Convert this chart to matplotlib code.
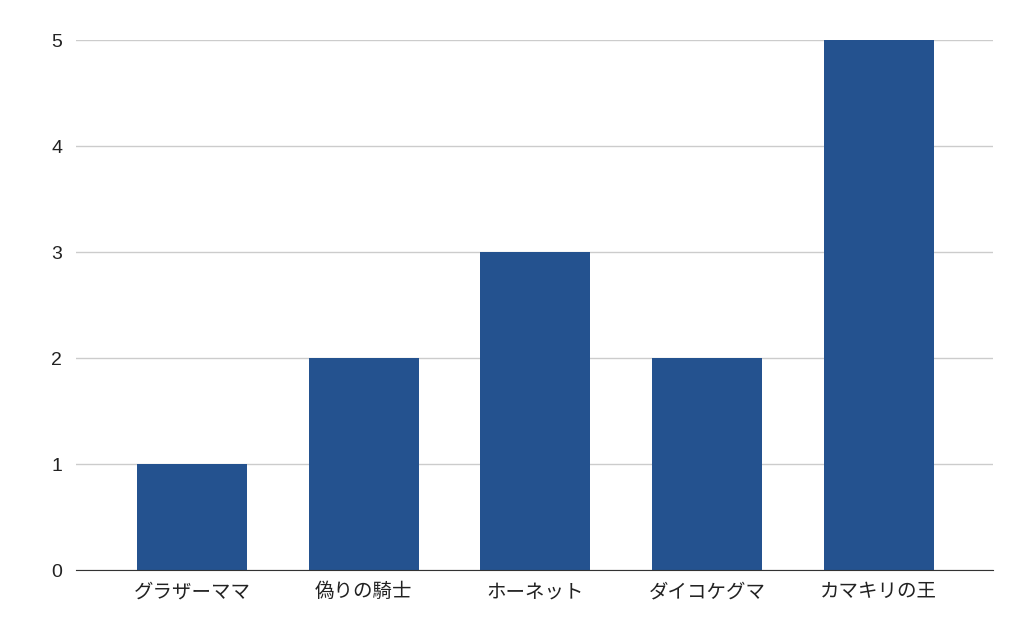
import matplotlib
matplotlib.use("Agg")
import matplotlib.pyplot as plt

plt.rcParams['font.family'] = ['Noto Sans CJK JP', 'DejaVu Sans']

names = ["グラザーママ", "偽りの騎士", "ホーネット", "ダイコケグマ", "カマキリの王"]
counts = [1, 2, 3, 2, 5]

fig = plt.figure(figsize=(10.24, 6.33), dpi=100)
ax = fig.add_axes([0.0742, 0.0995, 0.8955, 0.8373])

x = range(len(names))
ax.bar(x, counts, width=0.64, color="#24528f", zorder=3)

ax.set_xlim(-0.675, 4.665)
ax.set_ylim(0, 5)
ax.set_yticks([0, 1, 2, 3, 4, 5])
ax.set_xticks(list(x))
ax.set_xticklabels(names, fontsize=14)
for lbl in ax.get_yticklabels():
    lbl.set_fontfamily("Liberation Sans")
ax.grid(axis="y", color="#cccccc", linewidth=1, zorder=0)
ax.tick_params(axis="both", length=0, labelsize=14, colors="#222222")
ax.tick_params(axis="x", pad=8)
ax.tick_params(axis="y", pad=10)
for s in ["top", "right", "left"]:
    ax.spines[s].set_visible(False)
ax.spines["bottom"].set_color("#333333")
ax.spines["bottom"].set_zorder(4)

fig.savefig("out.png", dpi=100)
